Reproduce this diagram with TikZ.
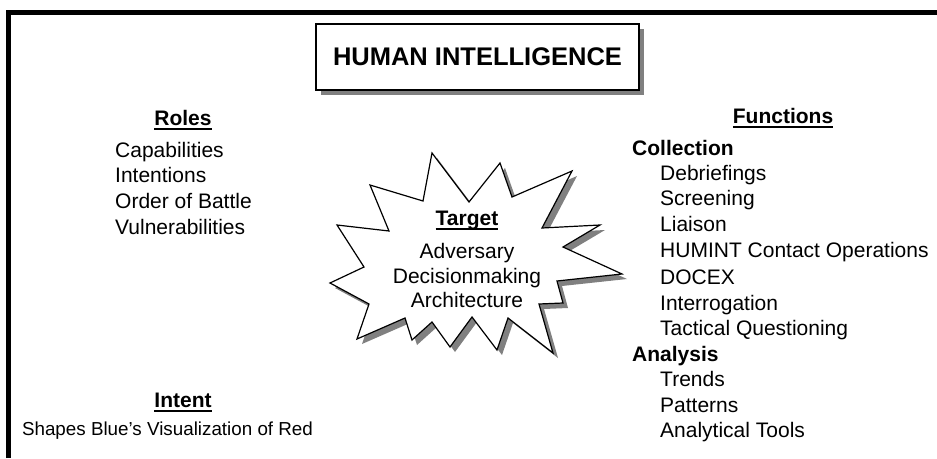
\documentclass[tikz,border=0pt]{standalone}
\usepackage{fontspec}
\setmainfont{Liberation Sans}
\usetikzlibrary{shadows}
\newcommand{\uln}[1]{\setbox0=\hbox{#1}\rlap{\rule[-4.6pt]{\wd0}{1.6pt}}\box0}

\begin{document}
\begin{tikzpicture}[x=1pt,y=-1pt]
        \tikzstyle{every node}=[inner sep=0pt, font=\fontsize{21}{25}\selectfont, text=black]
        \tikzstyle{item}=[anchor=base west]
        \tikzstyle{head}=[anchor=base, font=\fontsize{21}{25}\selectfont\bfseries]
        \tikzstyle{frame}=[line width=5pt]
        \tikzstyle{shade}=[drop shadow={shadow xshift=5pt, shadow yshift=-5pt, fill=gray, opacity=1}]

        \useasboundingbox (0,0) rectangle (937,458);
        \draw[frame] (8.5,458) -- (8.5,12.5) -- (937,12.5);

        \node[shade, draw, fill=white, line width=1.2pt, minimum width=323pt, minimum height=66pt,
              font=\fontsize{25.5}{30}\selectfont\bfseries] (title) at (477.5,57) {HUMAN INTELLIGENCE};

        % roles
        \node[head] (roles) at (183,125) {\uln{Roles}};
        \node[item] (capab) at (115,157) {Capabilities};
        \node[item] (inten) at (115,182) {Intentions};
        \node[item] (order) at (115,208) {Order of Battle};
        \node[item] (vulne) at (115,234) {Vulnerabilities};

        % intent
        \node[head] (intent) at (183,407) {\uln{Intent}};
        \node[anchor=base, font=\fontsize{18.8}{23}\selectfont] (shapes) at (167.5,435) {Shapes Blue’s Visualization of Red};

        % target
        \draw[shade, fill=white, line width=1.2pt, line join=miter]
            (432,153) -- (469,202) -- (500,163) -- (512,197) -- (572,171) -- (542,228)
            -- (600,225) -- (563,247) -- (622,274) -- (557,281) -- (563,303) -- (539,304)
            -- (553,353) -- (508,318) -- (497,350) -- (472,317) -- (450,347) -- (432,322)
            -- (412,340) -- (405,318) -- (357,339) -- (369,304) -- (330,283) -- (364,267)
            -- (337,225) -- (389,231) -- (370,185) -- (423,201) -- cycle;
        \node[head] (target) at (467,225) {\uln{Target}};
        \node[anchor=base] (adver) at (467,258) {Adversary};
        \node[anchor=base] (decis) at (467,283) {Decisionmaking};
        \node[anchor=base] (archi) at (467,307) {Architecture};

        % functions
        \node[head] (funcs) at (783,123) {\uln{Functions}};
        \node[item, font=\fontsize{21}{25}\selectfont\bfseries] (collect) at (632,155) {Collection};
        \node[item] (debrief) at (660,180) {Debriefings};
        \node[item] (screen)  at (660,205) {Screening};
        \node[item] (liaison) at (660,231) {Liaison};
        \node[item] (humint)  at (660,257) {HUMINT Contact Operations};
        \node[item] (docex)   at (660,284) {DOCEX};
        \node[item] (interr)  at (660,310) {Interrogation};
        \node[item] (tactic)  at (660,335) {Tactical Questioning};
        \node[item, font=\fontsize{21}{25}\selectfont\bfseries] (analys) at (632,361) {Analysis};
        \node[item] (trends)  at (660,386) {Trends};
        \node[item] (pattern) at (660,412) {Patterns};
        \node[item] (tools)   at (660,437) {Analytical Tools};
\end{tikzpicture}
\end{document}
